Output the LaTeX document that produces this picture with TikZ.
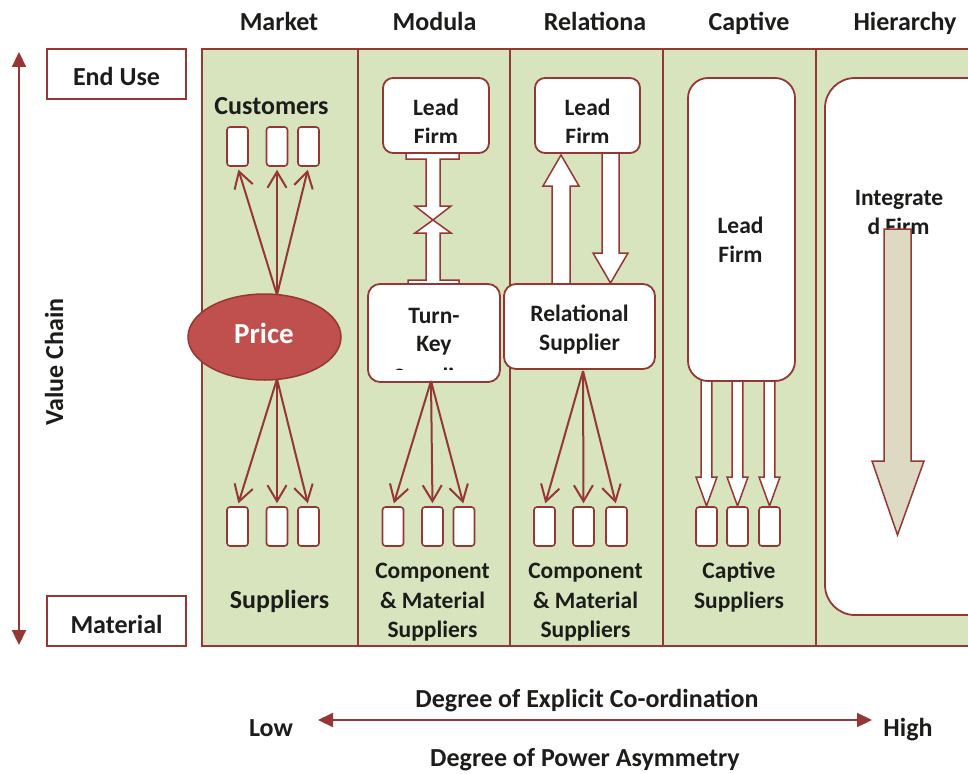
\documentclass[tikz,border=0pt]{standalone}
\usepackage{fontspec}
\setmainfont{Carlito}
\usetikzlibrary{arrows.meta,shapes.geometric}

\definecolor{gvcred}{RGB}{149,55,53}
\definecolor{gvcgreen}{RGB}{215,228,189}
\definecolor{pricered}{RGB}{192,80,77}
\definecolor{hiertan}{RGB}{221,217,195}
\definecolor{ink}{RGB}{28,28,26}

\begin{document}
\begin{tikzpicture}[x=1pt,y=-1pt,
  panel/.style={draw=gvcred, fill=gvcgreen, line width=1.5pt, inner sep=0pt},
  plainbox/.style={draw=gvcred, fill=white, line width=1.8pt, inner sep=0pt},
  firmbox/.style={draw=gvcred, fill=white, line width=1.8pt, inner sep=0pt, rounded corners=10pt},
  sbox/.style={draw=gvcred, fill=white, line width=1.6pt, inner sep=0pt,
    minimum width=21pt, minimum height=39pt, rounded corners=3pt},
  lbl/.style={font=\fontsize{26}{30}\selectfont\bfseries, text=ink, inner sep=0pt, anchor=base},
  slbl/.style={font=\fontsize{23.5}{28}\selectfont\bfseries, text=ink, inner sep=0pt, anchor=base},
  thinarrow/.style={draw=gvcred, line width=2pt, -{Straight Barb[length=16pt,width=19pt]}, shorten >=3pt},
  axisarrow/.style={draw=gvcred, line width=2.2pt, {Triangle[length=15pt,width=14pt]}-{Triangle[length=15pt,width=14pt]}},
  blockarrow/.style={draw=gvcred, fill=white, line width=1.5pt, line join=miter},
]
\clip (0,0) rectangle (968,773);

% governance columns
\node[panel, minimum width=156pt, minimum height=597pt] (pMarket) at (280,347.5) {};
\node[panel, minimum width=152pt, minimum height=597pt] (pModular) at (434,347.5) {};
\node[panel, minimum width=153pt, minimum height=597pt] (pRelational) at (586.5,347.5) {};
\node[panel, minimum width=153pt, minimum height=597pt] (pCaptive) at (739.5,347.5) {};
\node[panel, minimum width=174pt, minimum height=597pt] (pHierarchy) at (903,347.5) {};

% column headings
\node[lbl] (hMarket) at (279,31) {Market};
\node[lbl] (hModular) at (434.5,31) {Modula};
\node[lbl] (hRelational) at (595,31) {Relationa};
\node[lbl] (hCaptive) at (749,31) {Captive};
\node[lbl] (hHierarchy) at (905,31) {Hierarchy};

% value chain axis
\node[plainbox, minimum width=139pt, minimum height=50pt] (endUse) at (116.5,74) {};
\node[lbl] (tEndUse) at (116.5,86) {End Use};
\node[plainbox, minimum width=139pt, minimum height=50pt] (material) at (116.5,621) {};
\node[lbl] (tMaterial) at (116.5,633) {Material};
\coordinate (vcTop) at (19,52);
\coordinate (vcBot) at (19,645);
\draw[axisarrow] (vcTop) -- (vcBot);
\node[lbl, rotate=90] (tValueChain) at (63,362) {Value Chain};

% ---------- Market ----------
\node[lbl] (tCustomers) at (271.5,114) {Customers};
\node[sbox] (mc1) at (237.5,146.5) {};
\node[sbox] (mc2) at (277,146.5) {};
\node[sbox] (mc3) at (308.5,146.5) {};
\node[ellipse, draw=gvcred, fill=pricered, line width=1.5pt, inner sep=0pt,
      minimum width=153pt, minimum height=86pt] (price) at (264.5,337) {};
\node[lbl, text=white, font=\fontsize{29}{34}\selectfont\bfseries] (tPrice) at (264,343) {Price};
\coordinate (priceTop) at (277,295);
\coordinate (priceBot) at (277,379);
\draw[thinarrow] (priceTop) -- (mc1.south);
\draw[thinarrow] (priceTop) -- (mc2.south);
\draw[thinarrow] (priceTop) -- (mc3.south);
\node[sbox] (ms1) at (237.5,526.5) {};
\node[sbox] (ms2) at (277,526.5) {};
\node[sbox] (ms3) at (308.5,526.5) {};
\draw[thinarrow] (priceBot) -- (ms1.north);
\draw[thinarrow] (priceBot) -- (ms2.north);
\draw[thinarrow] (priceBot) -- (ms3.north);
\node[lbl] (tMarketSup) at (279.5,608) {Suppliers};

% ---------- Modular ----------
\draw[blockarrow] (406,140) -- (406,159) -- (426,159) -- (426,206) -- (415,206) -- (433,220)
  -- (451,206) -- (440,206) -- (440,159) -- (459,159) -- (459,140) -- cycle;
\draw[blockarrow] (433,220) -- (415,233) -- (426,233) -- (426,280) -- (408,280) -- (408,295)
  -- (459,295) -- (459,280) -- (440,280) -- (440,233) -- (451,233) -- cycle;
\node[firmbox, minimum width=106pt, minimum height=75pt] (modLead) at (436,115.5) {};
\begin{scope}
  \clip (384,80) rectangle (488,142);
  \node[slbl] (modLead1) at (436,115) {Lead};
  \node[slbl] (modLead2) at (436,144) {Firm};
\end{scope}
\node[firmbox, rounded corners=12pt, minimum width=132pt, minimum height=98pt] (turnKey) at (434,333) {};
\begin{scope}
  \clip (370,286) rectangle (498,369);
  \node[slbl] (turnKey1) at (434,323) {Turn-};
  \node[slbl] (turnKey2) at (434,351) {Key};
  \node[slbl] (turnKey3) at (434,384) {Supplier};
\end{scope}
\coordinate (turnKeyBot) at (431,381);
\node[sbox] (ds1) at (393,526.5) {};
\node[sbox] (ds2) at (432.5,526.5) {};
\node[sbox] (ds3) at (464,526.5) {};
\draw[thinarrow] (turnKeyBot) -- (ds1.north);
\draw[thinarrow] (turnKeyBot) -- (ds2.north);
\draw[thinarrow] (turnKeyBot) -- (ds3.north);
\node[slbl] (modSup1) at (432.5,578) {Component};
\node[slbl] (modSup2) at (432.5,608) {\& Material};
\node[slbl] (modSup3) at (432.5,637) {Suppliers};

% ---------- Relational ----------
\draw[blockarrow] (552,295) -- (552,186) -- (543,186) -- (561,155) -- (579,186) -- (570,186) -- (570,295) -- cycle;
\draw[blockarrow] (602,140) -- (602,253) -- (593,253) -- (610.5,283) -- (628,253) -- (619,253) -- (619,140) -- cycle;
\node[firmbox, minimum width=105pt, minimum height=75pt] (relLead) at (587.5,115.5) {};
\begin{scope}
  \clip (536,80) rectangle (639,142);
  \node[slbl] (relLead1) at (587.5,115) {Lead};
  \node[slbl] (relLead2) at (587.5,144) {Firm};
\end{scope}
\node[firmbox, rounded corners=12pt, minimum width=151pt, minimum height=85pt] (relSup) at (579.5,326.5) {};
\node[slbl] (relSup1) at (579.5,321) {Relational};
\node[slbl] (relSup2) at (579.5,350) {Supplier};
\coordinate (relSupBot) at (583,371);
\node[sbox] (rs1) at (544.5,526.5) {};
\node[sbox] (rs2) at (583.5,526.5) {};
\node[sbox] (rs3) at (616.5,526.5) {};
\draw[thinarrow] (relSupBot) -- (rs1.north);
\draw[thinarrow] (relSupBot) -- (rs2.north);
\draw[thinarrow] (relSupBot) -- (rs3.north);
\node[slbl] (relSupL1) at (585.5,578) {Component};
\node[slbl] (relSupL2) at (585.5,608) {\& Material};
\node[slbl] (relSupL3) at (585.5,637) {Suppliers};

% ---------- Captive ----------
\foreach \cx/\nm in {706.5/ca, 737.5/cb, 769.5/cc}{
  \draw[blockarrow] (\cx-5.3,370) -- (\cx-5.3,477) -- (\cx-10.5,477) -- (\cx,506)
    -- (\cx+10.5,477) -- (\cx+5.3,477) -- (\cx+5.3,370) -- cycle;
}
\node[firmbox, rounded corners=20pt, minimum width=107pt, minimum height=303pt] (capLead) at (741.5,229.5) {};
\node[slbl] (capLead1) at (740.5,233) {Lead};
\node[slbl] (capLead2) at (740.5,262) {Firm};
\node[sbox] (cs1) at (706.5,526.5) {};
\node[sbox] (cs2) at (737.5,526.5) {};
\node[sbox] (cs3) at (769.5,526.5) {};
\node[slbl] (capSup1) at (739,578) {Captive};
\node[slbl] (capSup2) at (739,608) {Suppliers};

% ---------- Hierarchy ----------
\node[firmbox, rounded corners=30pt, minimum width=175pt, minimum height=537pt] (intFirm) at (912.5,346.5) {};
\node[slbl] (intFirm1) at (899,205) {Integrate};
\node[slbl] (intFirm2) at (898.5,234) {d Firm};
\draw[draw=gvcred, fill=hiertan, line width=1.5pt, line join=miter]
  (884,229) -- (884,461) -- (872,461) -- (897.5,535) -- (924,461) -- (911,461) -- (911,229) -- cycle;

% ---------- co-ordination axis ----------
\node[lbl] (tExplicit) at (587,707) {Degree of Explicit Co-ordination};
\node[lbl] (tLow) at (271,736) {Low};
\node[lbl] (tHigh) at (908,736) {High};
\coordinate (lowEnd) at (318,720);
\coordinate (highEnd) at (872,720);
\draw[axisarrow] (lowEnd) -- (highEnd);
\node[lbl] (tPower) at (585,766) {Degree of Power Asymmetry};
\end{tikzpicture}
\end{document}
